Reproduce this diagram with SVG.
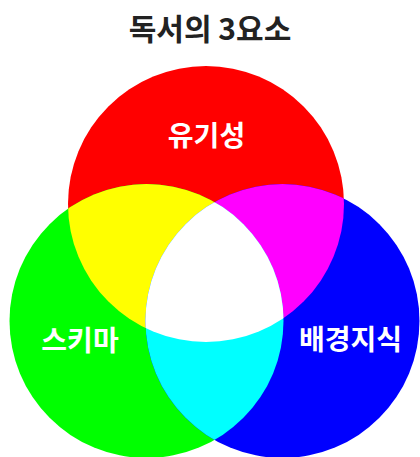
<svg xmlns="http://www.w3.org/2000/svg" width="420" height="457" viewBox="0 0 420 457">
<defs>
<style>
.t{font-family:"Noto Sans CJK KR","Noto Sans CJK SC",sans-serif;font-weight:bold;font-size:28px;text-anchor:middle}
.lbl{fill:#ffffff}
.title{fill:#222222;font-size:30px}
</style>
<clipPath id="cR"><circle cx="206" cy="204" r="138"/></clipPath>
<clipPath id="cG"><circle cx="146.5" cy="321" r="137"/></clipPath>
<clipPath id="cB"><circle cx="282.5" cy="321" r="137"/></clipPath>
</defs>
<rect width="420" height="457" fill="#ffffff"/>
<g id="circles">
<circle id="red" cx="206" cy="204" r="138" fill="#ff0000"/>
<circle id="green" cx="146.5" cy="321" r="137" fill="#00ff00"/>
<circle id="blue" cx="282.5" cy="321" r="137" fill="#0000ff"/>
<circle id="yellow" cx="146.5" cy="321" r="137" fill="#ffff00" clip-path="url(#cR)"/>
<circle id="magenta" cx="282.5" cy="321" r="137" fill="#ff00ff" clip-path="url(#cR)"/>
<circle id="cyan" cx="282.5" cy="321" r="137" fill="#00ffff" clip-path="url(#cG)"/>
<g clip-path="url(#cR)"><circle id="white" cx="282.5" cy="321" r="137" fill="#ffffff" clip-path="url(#cG)"/></g>
</g>
<text class="t title" x="210" y="40">독서의 3요소</text>
<g id="n-red"><text class="t lbl" x="206.5" y="146">유기성</text></g>
<g id="n-green"><text class="t lbl" x="80" y="351">스키마</text></g>
<g id="n-blue"><text class="t lbl" x="350.5" y="350">배경지식</text></g>
<g id="connectors"></g>
</svg>
